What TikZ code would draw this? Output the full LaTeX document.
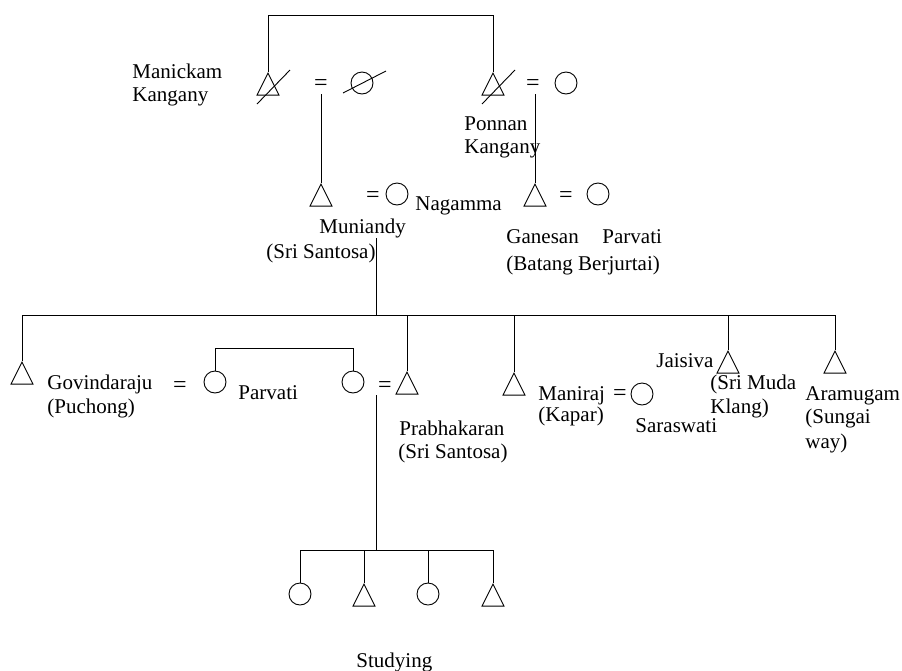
\documentclass[tikz,border=0pt]{standalone}
\usepackage{fontspec}
\setmainfont{Liberation Serif}
\usetikzlibrary{shapes.geometric}
\tikzset{
  male/.style={draw, isosceles triangle, isosceles triangle stretches, shape border rotate=90,
    minimum width=22pt, minimum height=22pt, inner sep=0pt, anchor=apex},
  female/.style={draw, circle, minimum size=22pt, inner sep=0pt},
  lbl/.style={anchor=base west, inner sep=0pt, font=\fontsize{21}{24}\selectfont},
  lble/.style={anchor=base east, inner sep=0pt, font=\fontsize{21}{24}\selectfont},
  eqs/.style={inner sep=0pt, font=\fontsize{24}{26}\selectfont},
}
\begin{document}
\begin{tikzpicture}[x=1pt,y=-1pt,line width=0.9pt]
\useasboundingbox (0,0) rectangle (902,670);
% generation 0
\node[male] (mk) at (268,72) {};
\node[female] (w1) at (362,83) {};
\node[eqs] (eqA) at (321,85) {=};
\node[male] (pk) at (493,72) {};
\node[eqs] (eqB) at (533,85) {=};
\node[female] (w2) at (566,83) {};
\coordinate (top) at (380,15);
\draw (mk.apex) -- (mk.apex |- top) -- (pk.apex |- top) -- (pk.apex);
\draw ([shift={(-11,32)}]mk.apex) -- ([shift={(22,-2)}]mk.apex);
\draw ([shift={(-11,32)}]pk.apex) -- ([shift={(22,-2)}]pk.apex);
\draw ([shift={(-19,10)}]w1.center) -- ([shift={(24,-12)}]w1.center);
\node[lbl] (t1) at (132,78) {Manickam};
\node[lbl] (t2) at (132,101) {Kangany};
\node[lbl] (t3) at (464,130) {Ponnan};
\node[lbl] (t4) at (464,153) {Kangany};
% generation 1
\node[male] (mun) at (321,183) {};
\node[eqs] (eqC) at (373,197) {=};
\node[female] (nag) at (397,194) {};
\node[male] (gan) at (535,183) {};
\node[eqs] (eqD) at (566,197) {=};
\node[female] (gpa) at (598,194) {};
\draw (mun.apex) -- ++(0,-89);
\draw (gan.apex) -- ++(0,-89);
\node[lbl] (t5) at (319,233) {Muniandy};
\node[lble] (t6) at (376,258) {(Sri Santosa)};
\node[lbl] (t7) at (415,210) {Nagamma};
\node[lbl] (t8) at (506,243) {Ganesan};
\node[lbl] (t9) at (602,243) {Parvati};
\node[lbl] (t10) at (506,270) {(Batang Berjurtai)};
% generation 2
\coordinate (munl) at (376,238);
\coordinate (bar) at (376,315);
\draw (munl) -- (bar);
\node[male] (gov) at (22,361) {};
\node[eqs] (eqE) at (180,387) {=};
\node[female] (par1) at (215,382) {};
\node[female] (par2) at (353,382) {};
\node[eqs] (eqF) at (385,387) {=};
\node[male] (pra) at (407,371) {};
\node[male] (man) at (514,372) {};
\node[eqs] (eqG) at (620,395) {=};
\node[female] (sar) at (642,394) {};
\node[male] (jai) at (728,350) {};
\node[male] (ara) at (835,350) {};
\draw (gov.apex) -- (gov.apex |- bar) -- (ara.apex |- bar) -- (ara.apex);
\draw (pra.apex) -- (pra.apex |- bar);
\draw (man.apex) -- (man.apex |- bar);
\draw (jai.apex) -- (jai.apex |- bar);
\draw (par1.north) -- ++(0,-22) -| (par2.north);
\node[lbl] (t11) at (47,389) {Govindaraju};
\node[lbl] (t12) at (47,413) {(Puchong)};
\node[lbl] (t13) at (238,399) {Parvati};
\node[lbl] (t14) at (399,435) {Prabhakaran};
\node[lbl] (t15) at (398,458) {(Sri Santosa)};
\node[lbl] (t16) at (538,400) {Maniraj};
\node[lbl] (t17) at (538,421) {(Kapar)};
\node[lbl] (t18) at (635,432) {Saraswati};
\node[lble] (t19) at (714,367) {Jaisiva};
\node[lbl] (t20) at (710,389) {(Sri Muda};
\node[lbl] (t21) at (710,413) {Klang)};
\node[lbl] (t22) at (805,400) {Aramugam};
\node[lbl] (t23) at (805,423) {(Sungai};
\node[lbl] (t24) at (805,448) {way)};
% generation 3
\coordinate (pral) at (376,395);
\coordinate (cbar) at (376,550);
\draw (pral) -- (cbar);
\node[female] (c1) at (300,594) {};
\node[male] (c2) at (364,583) {};
\node[female] (c3) at (428,594) {};
\node[male] (c4) at (493,583) {};
\draw (c1.north) -- (c1.north |- cbar) -- (c4.apex |- cbar) -- (c4.apex);
\draw (c2.apex) -- (c2.apex |- cbar);
\draw (c3.north) -- (c3.north |- cbar);
\node[lbl] (t25) at (356,667) {Studying};
\end{tikzpicture}
\end{document}
